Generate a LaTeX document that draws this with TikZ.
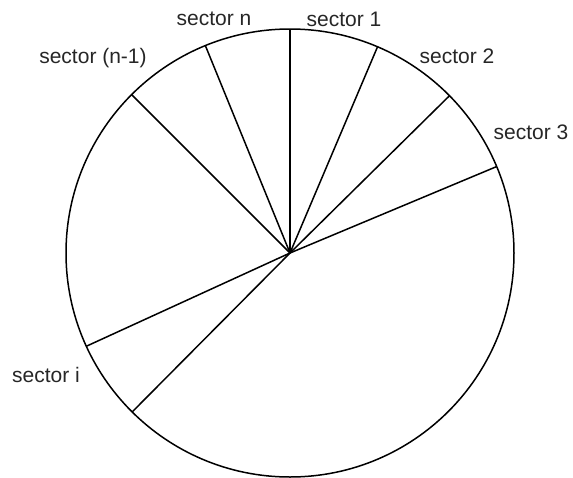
\documentclass[tikz,border=0pt]{standalone}
\usepackage{fontspec}
\setmainfont{Liberation Sans}

\begin{document}
\begin{tikzpicture}[x=1pt,y=-1pt,line width=1.5pt,
    lbl/.style={font=\fontsize{21}{25}\selectfont,inner sep=0pt,text=black!85}]
    \useasboundingbox (0,0) rectangle (573,477);
    % Mittelpunkt und Kreis:
    \coordinate (c) at (290,253);
    \draw (c) circle[radius=224pt];
    % Punkte am Rand:
    \coordinate (r0) at ([shift={(90:224pt)}]c);    % oben
    \coordinate (r1) at ([shift={(67:224pt)}]c);
    \coordinate (r2) at ([shift={(44.6:224pt)}]c);
    \coordinate (r3) at ([shift={(22.7:224pt)}]c);
    \coordinate (rn) at ([shift={(112.2:224pt)}]c);
    \coordinate (rm) at ([shift={(135:224pt)}]c);
    \coordinate (ri) at ([shift={(204.6:224pt)}]c);
    \coordinate (rj) at ([shift={(225.2:224pt)}]c);
    % Radien:
    \draw (c) -- (r0); % erster Strich
    \draw (c) -- (r1);
    \draw (c) -- (r2);
    \draw (c) -- (r3);
    \draw (c) -- (rn);
    \draw (c) -- (rm);
    \draw (c) -- (ri);
    \draw (c) -- (rj);
    % Beschriftung:
    \node[lbl] (sn) at (214,19) {sector n};
    \node[lbl] (s1) at (344,19) {sector 1};
    \node[lbl] (s2) at (457,56) {sector 2};
    \node[lbl] (s3) at (531,132) {sector 3};
    \node[lbl] (sm) at (93,58) {sector (n-1)};
    \node[lbl] (si) at (46,375) {sector i};
\end{tikzpicture}
\end{document}
